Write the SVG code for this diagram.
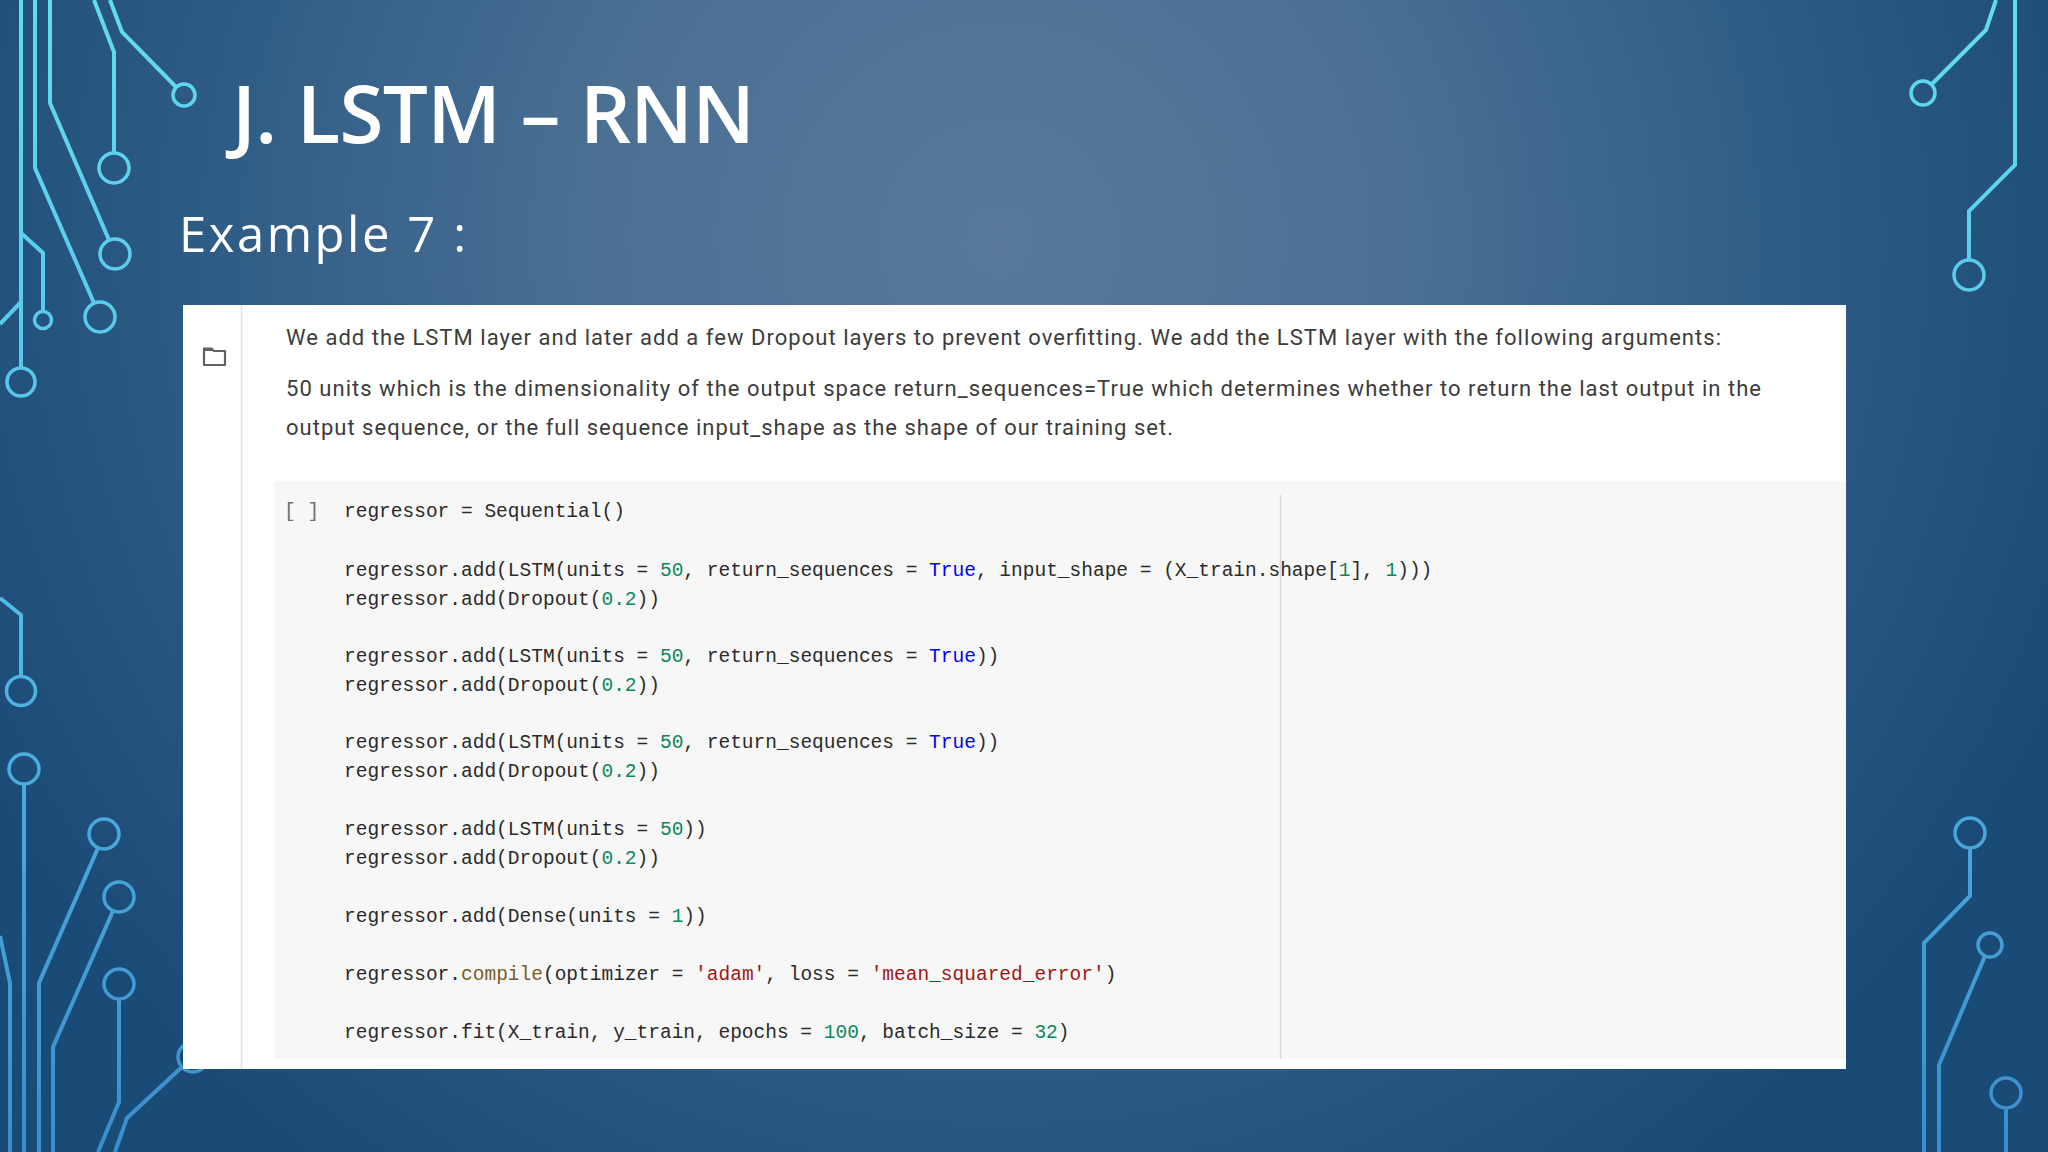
<svg xmlns="http://www.w3.org/2000/svg" width="2048" height="1152" viewBox="0 0 2048 1152">
  <defs>
    <radialGradient id="bg" gradientUnits="userSpaceOnUse" cx="1000" cy="240" r="1150">
      <stop offset="0" stop-color="#58799b"/>
      <stop offset="0.35" stop-color="#4b7094"/>
      <stop offset="0.7" stop-color="#2d5b85"/>
      <stop offset="1" stop-color="#1a4a76"/>
    </radialGradient>
    <linearGradient id="wire" gradientUnits="userSpaceOnUse" x1="0" y1="0" x2="0" y2="1152">
      <stop offset="0" stop-color="#62dcf2"/>
      <stop offset="0.5" stop-color="#54bce6"/>
      <stop offset="1" stop-color="#3b8dcc"/>
    </linearGradient>
  </defs>
  <style>
    .w{fill:none;stroke:url(#wire);stroke-width:4;stroke-linejoin:miter}
    .n{fill:none;stroke:url(#wire);stroke-width:3.5}
    .title{font-family:"Open Sans","DejaVu Sans",sans-serif;fill:#ffffff}
    .para{font-family:Roboto,"Liberation Sans",sans-serif;font-size:22px;fill:#3c3c3c}
    .code{font-family:"Liberation Mono","DejaVu Sans Mono",monospace;font-size:19.5px;fill:#2a2a2a}
    .gut{font-family:"Liberation Mono","DejaVu Sans Mono",monospace;font-size:19.5px;fill:#6f6f6f}
    .num{fill:#09885a}
    .kw{fill:#0000ff}
    .str{fill:#a31515}
    .fn{fill:#795e26}
  </style>

  <rect id="background" x="0" y="0" width="2048" height="1152" fill="url(#bg)"/>

  <g id="circuit">
    <!-- top left -->
    <path class="w" d="M21,0 V368"/>
    <circle class="n" cx="21" cy="382" r="14"/>
    <path class="w" d="M35,0 V168 L94,303"/>
    <circle class="n" cx="100" cy="317" r="15"/>
    <path class="w" d="M50,0 V103 L109,240"/>
    <circle class="n" cx="115" cy="254" r="15"/>
    <path class="w" d="M94,0 L114,52 V153"/>
    <circle class="n" cx="114" cy="168" r="15"/>
    <path class="w" d="M110,0 L122,32 L176,87"/>
    <circle class="n" cx="184" cy="95" r="11"/>
    <path class="w" d="M21,233 L43,253 V311"/>
    <circle class="n" cx="43" cy="320" r="8.5"/>
    <path class="w" d="M0,324 L21,302"/>
    <!-- top right -->
    <path class="w" d="M1996,0 L1986,30 L1931,85"/>
    <circle class="n" cx="1923" cy="93" r="12"/>
    <path class="w" d="M2015,0 V165 L1969,211 V260"/>
    <circle class="n" cx="1969" cy="275" r="15"/>
    <!-- bottom left -->
    <path class="w" d="M0,598 L21,615 V677"/>
    <circle class="n" cx="21" cy="691" r="14.5"/>
    <circle class="n" cx="24" cy="769" r="15"/>
    <path class="w" d="M24,784 V1152"/>
    <circle class="n" cx="104" cy="834" r="15"/>
    <path class="w" d="M98,848 L39,983 V1152"/>
    <circle class="n" cx="119" cy="897" r="15"/>
    <path class="w" d="M113,911 L53,1047 V1152"/>
    <circle class="n" cx="119" cy="984" r="15"/>
    <path class="w" d="M119,999 V1102 L98,1152"/>
    <path class="w" d="M0,936 L10,983 V1152"/>
    <circle class="n" cx="193" cy="1057" r="15"/>
    <path class="w" d="M182,1067 L127,1118 L115,1152"/>
    <!-- bottom right -->
    <circle class="n" cx="1970" cy="833" r="15"/>
    <path class="w" d="M1970,848 V896 L1924,943 V1152"/>
    <circle class="n" cx="1990" cy="945" r="12"/>
    <path class="w" d="M1985,956 L1939,1065 V1152"/>
    <circle class="n" cx="2006" cy="1093" r="15"/>
    <path class="w" d="M2006,1108 V1152"/>
  </g>

  <g id="title">
    <text class="title" x="232" y="143" font-size="80" font-weight="600" textLength="523">J. LSTM – RNN</text>
  </g>
  <g id="subtitle">
    <text class="title" x="179" y="252" font-size="49" textLength="287">Example 7 :</text>
  </g>

  <g id="panel">
    <rect x="183" y="305" width="1663" height="764" fill="#ffffff"/>
    <line x1="241.5" y1="305" x2="241.5" y2="1069" stroke="#e3e3e3" stroke-width="1.5"/>
    <rect x="274" y="481" width="1572" height="578" fill="#f7f7f7"/>
    <line x1="1280.5" y1="495" x2="1280.5" y2="1059" stroke="#d9d9d9" stroke-width="1.5"/>
    <path d="M204,348.5 h7.5 l2.5,2.5 h11 v14 h-21 z" fill="none" stroke="#5f6368" stroke-width="2.2" stroke-linejoin="round"/>
    <path d="M204,348.5 h7.5 l2.5,2.5 h-10 z" fill="#5f6368"/>
  </g>

  <g id="description">
    <text class="para" x="286" y="345" textLength="1435">We add the LSTM layer and later add a few Dropout layers to prevent overfitting. We add the LSTM layer with the following arguments:</text>
    <text class="para" x="286" y="396" textLength="1475">50 units which is the dimensionality of the output space return_sequences=True which determines whether to return the last output in the</text>
    <text class="para" x="286" y="435" textLength="887">output sequence, or the full sequence input_shape as the shape of our training set.</text>
  </g>

  <g id="code">
    <text class="gut" x="284" y="517">[ ]</text>
    <text class="code" x="344" y="517">regressor = Sequential()</text>
    <text class="code" x="344" y="576">regressor.add(LSTM(units = <tspan class="num">50</tspan>, return_sequences = <tspan class="kw">True</tspan>, input_shape = (X_train.shape[<tspan class="num">1</tspan>], <tspan class="num">1</tspan>)))</text>
    <text class="code" x="344" y="605">regressor.add(Dropout(<tspan class="num">0.2</tspan>))</text>
    <text class="code" x="344" y="662">regressor.add(LSTM(units = <tspan class="num">50</tspan>, return_sequences = <tspan class="kw">True</tspan>))</text>
    <text class="code" x="344" y="691">regressor.add(Dropout(<tspan class="num">0.2</tspan>))</text>
    <text class="code" x="344" y="748">regressor.add(LSTM(units = <tspan class="num">50</tspan>, return_sequences = <tspan class="kw">True</tspan>))</text>
    <text class="code" x="344" y="777">regressor.add(Dropout(<tspan class="num">0.2</tspan>))</text>
    <text class="code" x="344" y="835">regressor.add(LSTM(units = <tspan class="num">50</tspan>))</text>
    <text class="code" x="344" y="864">regressor.add(Dropout(<tspan class="num">0.2</tspan>))</text>
    <text class="code" x="344" y="922">regressor.add(Dense(units = <tspan class="num">1</tspan>))</text>
    <text class="code" x="344" y="980">regressor.<tspan class="fn">compile</tspan>(optimizer = <tspan class="str">'adam'</tspan>, loss = <tspan class="str">'mean_squared_error'</tspan>)</text>
    <text class="code" x="344" y="1038">regressor.fit(X_train, y_train, epochs = <tspan class="num">100</tspan>, batch_size = <tspan class="num">32</tspan>)</text>
  </g>
</svg>
